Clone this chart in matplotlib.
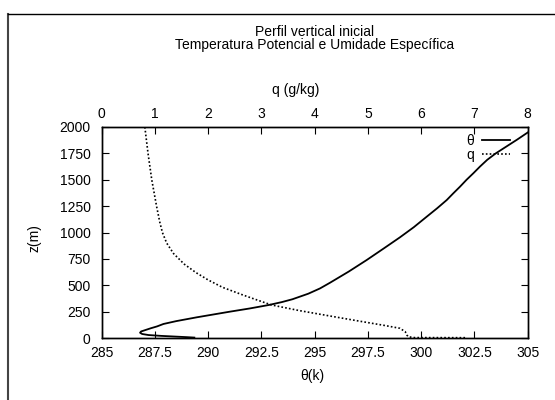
import matplotlib
matplotlib.use("Agg")
import matplotlib.pyplot as plt
from matplotlib.lines import Line2D

plt.rcParams['font.family'] = ['Liberation Sans', 'DejaVu Sans']
plt.rcParams['font.size'] = 10

# theta profile (K) vs height (m)
theta_z = [4, 8, 13, 20, 28, 38, 50, 62, 72, 92, 110, 133, 160, 196, 249, 280,
           313, 340, 367, 420, 470, 524, 630, 739, 850, 954, 1050, 1150, 1230,
           1308, 1370, 1434, 1500, 1562, 1625, 1689, 1750, 1815, 1880, 1948, 2000]
theta = [289.35, 289.0, 288.5, 287.8, 287.2, 286.9, 286.8, 286.85, 287.0, 287.3,
         287.6, 287.9, 288.5, 289.46, 291.0, 291.95, 292.85, 293.45, 293.95, 294.7,
         295.25, 295.72, 296.6, 297.44, 298.25, 299.0, 299.65, 300.26, 300.75,
         301.2, 301.5, 301.82, 302.13, 302.45, 302.76, 303.1, 303.5, 304.0, 304.5,
         305.0, 305.4]

# specific humidity profile (g/kg) vs height (m)
q_z = [2000, 1750, 1500, 1250, 1100, 1000, 900, 800, 700, 620, 550, 480, 408,
       360, 313, 259, 202, 158, 120, 92, 60, 28, 12, 4, 3]
q = [0.81, 0.87, 0.94, 1.03, 1.09, 1.14, 1.22, 1.35, 1.55, 1.77, 2.0, 2.27,
     2.65, 2.92, 3.19, 3.72, 4.36, 4.86, 5.3, 5.6, 5.70, 5.73, 5.76, 5.85, 6.83]

theta_ticks = [285, 287.5, 290, 292.5, 295, 297.5, 300, 302.5, 305]
theta_labels = ['285', '287.5', '290', '292.5', '295', '297.5', '300', '302.5', '305']
q_ticks = [0, 1, 2, 3, 4, 5, 6, 7, 8]
z_ticks = [0, 250, 500, 750, 1000, 1250, 1500, 1750, 2000]

W, H = 555, 400
fig = plt.figure(figsize=(W / 100, H / 100), dpi=100)
x0, x1, ytop, ybot = 101.7, 527.7, 127, 338
ax = fig.add_axes([x0 / W, 1 - ybot / H, (x1 - x0) / W, (ybot - ytop) / H])

l1, = ax.plot(theta, theta_z, color='black', lw=1.3)
ax.set_xlim(285, 305)
ax.set_ylim(0, 2000)
ax.set_xticks(theta_ticks)
ax.set_xticklabels(theta_labels)
ax.set_yticks(z_ticks)
ax.tick_params(direction='in', length=5, width=0.8, right=True, top=False,
               pad=6, labelsize=10)
ax.tick_params(axis='y', pad=8)

ax2 = ax.twiny()
l2, = ax2.plot(q, q_z, color='black', lw=1.2, linestyle=(0, (1, 1.3)))
ax2.set_xlim(0, 8)
ax2.set_xticks(q_ticks)
ax2.tick_params(direction='in', length=5, width=0.8, pad=4, labelsize=10)

for a in (ax, ax2):
    for s in a.spines.values():
        s.set_linewidth(1.0)

leg_x = (510 - x0) / (x1 - x0)
leg_y = (ybot - 134) / (ybot - ytop)
ax2.legend([l1, l2], ['θ', 'q'], loc='upper right', frameon=False,
           markerfirst=False, handlelength=2.0, handletextpad=0.6,
           labelspacing=0.0, borderaxespad=0.0, borderpad=0.0,
           bbox_to_anchor=(leg_x, leg_y), fontsize=10)

fig.text(315 / W, 1 - 32 / H, 'Perfil vertical inicial', ha='center', va='center', fontsize=10)
fig.text(315 / W, 1 - 45 / H, 'Temperatura Potencial e Umidade Específica',
         ha='center', va='center', fontsize=10)
fig.text(296 / W, 1 - 90 / H, 'q (g/kg)', ha='center', va='center', fontsize=10)
fig.text(312 / W, 1 - 376 / H, 'θ(k)', ha='center', va='center', fontsize=10)
fig.text(35 / W, 1 - 238 / H, 'z(m)', ha='center', va='center', rotation=90, fontsize=10)

# outer frame
fig.add_artist(Line2D([8.3 / W, 8.3 / W], [1 - 14.3 / H, 0], color='#444444', lw=1.5,
                      transform=fig.transFigure))
fig.add_artist(Line2D([8.3 / W, 1], [1 - 14.3 / H, 1 - 14.3 / H], color='black', lw=1.0,
                      transform=fig.transFigure))

fig.savefig('out.png', dpi=100)
